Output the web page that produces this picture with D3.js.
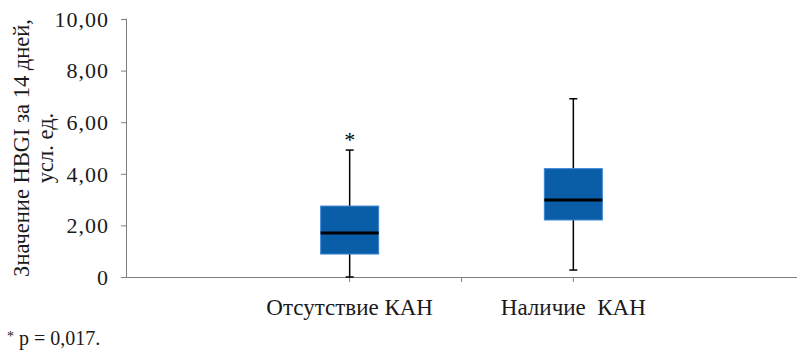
<!DOCTYPE html>
<html>
<head>
<meta charset="utf-8">
<script src="https://cdn.jsdelivr.net/npm/d3@7"></script>
<style>
  body { margin: 0; background: #fff; }
</style>
</head>
<body>
<div id="chart"></div>
<script>
const categories = ["Отсутствие КАН", "Наличие  КАН"];
const mins = [0, 0.27];
const q1s = [0.89, 2.21];
const medians = [1.71, 2.98];
const q3s = [2.75, 4.20];
const maxs = [4.92, 6.91];
const outliers = [5.43, null];
const yTicks = [0, 2, 4, 6, 8, 10];

const font = "Liberation Serif, serif";
const width = 800, height = 354;
const margin = {left: 126, right: 3, top: 19, bottom: 77};

const svg = d3.select("#chart").append("svg")
  .attr("width", width).attr("height", height)
  .attr("font-family", font);

const x = d3.scalePoint()
  .domain(categories)
  .range([margin.left, width - margin.right])
  .padding(1);

const y = d3.scaleLinear()
  .domain([0, 10])
  .range([height - margin.bottom, margin.top]);

// y axis
const yAxis = svg.append("g")
  .attr("transform", `translate(${margin.left},0)`)
  .call(d3.axisLeft(y).tickValues(yTicks).tickSize(5).tickPadding(12)
    .tickFormat(d => d === 0 ? "0" : d3.format(".2f")(d).replace(".", ",")));
yAxis.attr("font-family", font).attr("font-size", 22);
yAxis.select(".domain").attr("stroke", "#7f7f7f").attr("d", `M-0.5,${y(10)}H0.5V${y(0)}`);
yAxis.selectAll(".tick line").attr("stroke", "#7f7f7f");
yAxis.selectAll(".tick text")
  .attr("fill", "#1a1a1a").attr("dy", "0.33em")
  .attr("letter-spacing", 1);

// x axis
const x0 = margin.left, x1 = width - margin.right;
const xTickPos = [x(categories[0]), (x(categories[0]) + x(categories[1])) / 2, x(categories[1])];
svg.append("line")
  .attr("x1", x0).attr("x2", x1)
  .attr("y1", y(0) + 0.5).attr("y2", y(0) + 0.5)
  .attr("stroke", "#7f7f7f");
svg.selectAll(".xtick").data(xTickPos).join("line")
  .attr("x1", d => d).attr("x2", d => d)
  .attr("y1", y(0)).attr("y2", y(0) + 5)
  .attr("stroke", "#7f7f7f");

svg.selectAll(".xlabel").data(categories).join("text")
  .attr("x", d => x(d))
  .attr("y", y(0) + 38)
  .attr("text-anchor", "middle")
  .attr("fill", "#1a1a1a")
  .attr("font-family", font)
  .attr("font-size", 23)
  .attr("xml:space", "preserve")
  .style("white-space", "pre")
  .text(d => d);

// y label
const ylab = svg.append("text")
  .attr("transform", `translate(29,${(y(0) + y(10)) / 2}) rotate(-90)`)
  .attr("text-anchor", "middle")
  .attr("fill", "#1a1a1a")
  .attr("font-family", font)
  .attr("font-size", 22.5);
ylab.append("tspan").attr("x", 0).attr("dy", 0).text("Значение HBGI за 14 дней,");
ylab.append("tspan").attr("x", 0).attr("dy", 24).text("усл. ед.");

// boxes
const boxW = 58, capW = 8;
const g = svg.append("g");
categories.forEach((c, i) => {
  const cx = x(c);
  g.append("line")
    .attr("x1", cx).attr("x2", cx)
    .attr("y1", y(mins[i])).attr("y2", y(maxs[i]))
    .attr("stroke", "#000").attr("stroke-width", 1.5);
  [mins[i], maxs[i]].forEach(v => {
    g.append("line")
      .attr("x1", cx - capW / 2).attr("x2", cx + capW / 2)
      .attr("y1", y(v)).attr("y2", y(v))
      .attr("stroke", "#000").attr("stroke-width", 1.5);
  });
  g.append("rect")
    .attr("x", cx - boxW / 2).attr("width", boxW)
    .attr("y", y(q3s[i])).attr("height", y(q1s[i]) - y(q3s[i]))
    .attr("fill", "#0a5ea8").attr("stroke", "#3a86d2").attr("stroke-width", 1);
  g.append("line")
    .attr("x1", cx - boxW / 2).attr("x2", cx + boxW / 2)
    .attr("y1", y(medians[i])).attr("y2", y(medians[i]))
    .attr("stroke", "#000").attr("stroke-width", 3);
  if (outliers[i] != null) {
    g.append("text")
      .attr("x", cx).attr("y", y(outliers[i]) + 10)
      .attr("text-anchor", "middle")
      .attr("font-family", font)
      .attr("font-size", 22)
      .text("*");
  }
});

// footnote
const fn = svg.append("text").attr("x", 7).attr("y", 345)
  .attr("fill", "#1a1a1a")
  .attr("font-family", font).attr("font-size", 20);
fn.append("tspan").attr("font-size", 14).attr("dy", -4).text("*");
fn.append("tspan").attr("dy", 4).text(" p = 0,017.");
</script>
</body>
</html>
